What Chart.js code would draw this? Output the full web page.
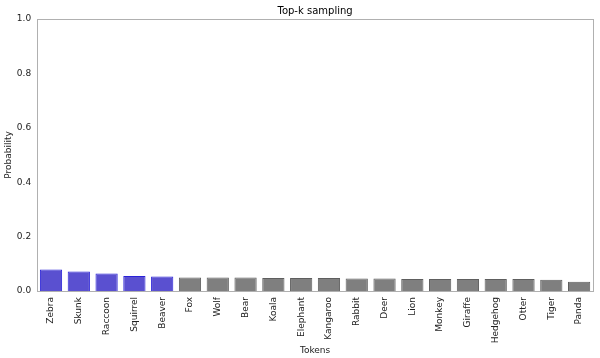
<!DOCTYPE html>
<html>
<head>
<meta charset="utf-8">
<script src="https://cdn.jsdelivr.net/npm/chart.js@4/dist/chart.umd.min.js"></script>
<style>
html,body{margin:0;padding:0;background:#fff;}
#wrap{width:600px;height:358px;position:relative;}
</style>
</head>
<body>
<div id="wrap"><canvas id="c" width="600" height="358"></canvas></div>
<script>
const tokens = ["Zebra","Skunk","Raccoon","Squirrel","Beaver","Fox","Wolf","Bear","Koala","Elephant","Kangaroo","Rabbit","Deer","Lion","Monkey","Giraffe","Hedgehog","Otter","Tiger","Panda"];
const probabilities = [0.079,0.072,0.064,0.055,0.053,0.050,0.050,0.050,0.048,0.048,0.048,0.046,0.046,0.044,0.044,0.044,0.044,0.044,0.041,0.034];
const topK = 5;
const yTicks = [0,0.2,0.4,0.6,0.8,1.0];

const fills = tokens.map((t,i)=> i < topK ? '#5a50d0' : '#7f7f7f');
const edges = tokens.map((t,i)=> i < topK ? '#2a22d8' : '#5e5e5e');

const frame = {
  id:'frame',
  afterDraw(chart){
    const a = chart.chartArea, ctx = chart.ctx;
    ctx.save();
    ctx.strokeStyle = '#b0b0b0';
    ctx.lineWidth = 1;
    ctx.strokeRect(Math.round(a.left)+0.5, Math.round(a.top)+0.5, Math.round(a.right-a.left), Math.round(a.bottom-a.top));
    ctx.restore();
  }
};

new Chart(document.getElementById('c'), {
  type:'bar',
  data:{
    labels: tokens,
    datasets:[{
      data: probabilities,
      backgroundColor: fills,
      borderColor: edges,
      borderWidth: 1,
      barPercentage: 0.8,
      categoryPercentage: 1.0
    }]
  },
  options:{
    responsive:false,
    animation:false,
    devicePixelRatio:1,
    layout:{padding:{left:3,right:7,top:0,bottom:0}},
    plugins:{
      legend:{display:false},
      tooltip:{enabled:false},
      title:{display:true,fullSize:false,text:'Top-k sampling',color:'#000',font:{family:'DejaVu Sans',size:10,weight:'normal'},padding:{top:5,bottom:2}}
    },
    scales:{
      x:{
        grid:{display:false, drawTicks:true, tickLength:4, tickColor:'#555'},
        border:{display:false},
        ticks:{color:'#222',font:{family:'DejaVu Sans',size:9},minRotation:90,maxRotation:90,autoSkip:false,padding:2},
        title:{display:true,text:'Tokens',color:'#222',font:{family:'DejaVu Sans',size:9},padding:{top:0,bottom:2}}
      },
      y:{
        min:0,max:1,
        afterBuildTicks(axis){ axis.ticks = yTicks.map(v=>({value:v})); },
        grid:{display:false, drawTicks:true, tickLength:4, tickColor:'#555'},
        border:{display:false},
        ticks:{color:'#222',font:{family:'DejaVu Sans',size:9},padding:2,callback:v=>Number(v).toFixed(1)},
        title:{display:true,text:'Probability',color:'#222',font:{family:'DejaVu Sans',size:9},padding:{top:0,bottom:1}}
      }
    }
  },
  plugins:[frame]
});
</script>
</body>
</html>
